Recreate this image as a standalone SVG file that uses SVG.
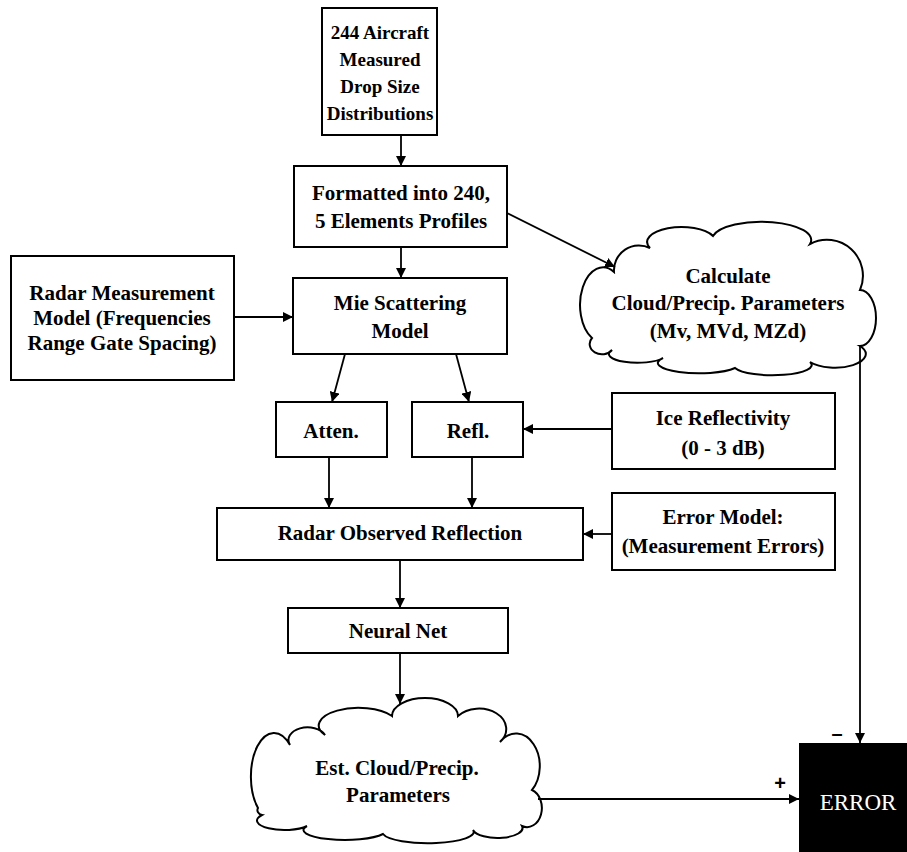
<svg xmlns="http://www.w3.org/2000/svg" width="907" height="852" viewBox="0 0 907 852">
<defs>
<marker id="ah" markerWidth="10" markerHeight="10" refX="10" refY="5" orient="auto" markerUnits="userSpaceOnUse">
<path d="M0,0 L10,5 L0,10 Z" fill="#000"/>
</marker>
<style>
.box{fill:#fff;stroke:#000;stroke-width:2}
.cloud{fill:#fff;stroke:#000;stroke-width:2}
.t{font-family:"Liberation Serif",serif;font-weight:bold;font-size:21px;text-anchor:middle;fill:#000}
.s{font-size:19px}
.c line{stroke:#000;stroke-width:1.8;marker-end:url(#ah)}
.sign{font-family:"Liberation Sans",sans-serif;font-weight:bold;font-size:20px;text-anchor:middle;fill:#000}
</style>
</defs>
<rect width="907" height="852" fill="#fff"/>
<g id="n1"><rect class="box" x="322" y="8" width="115" height="127"/>
<text class="t s" x="380" y="39">244 Aircraft</text><text class="t s" x="380" y="66">Measured</text><text class="t s" x="380" y="93">Drop Size</text><text class="t s" x="380" y="120">Distributions</text></g>
<g id="n2"><rect class="box" x="294" y="166" width="213" height="81"/>
<text class="t" x="401" y="200">Formatted into 240,</text><text class="t" x="401" y="228">5 Elements Profiles</text></g>
<g id="n3"><rect class="box" x="293" y="278" width="214" height="76"/>
<text class="t" x="400" y="310">Mie Scattering</text><text class="t" x="400" y="338">Model</text></g>
<g id="n4"><rect class="box" x="11" y="256" width="223" height="124"/>
<text class="t" x="122" y="300">Radar Measurement</text><text class="t" x="122" y="325">Model (Frequencies</text><text class="t" x="122" y="350">Range Gate Spacing)</text></g>
<g id="n5"><path class="cloud" d="M592,338 A22,36 0 0 1 614,272 A25,25 0 0 1 650,248 A32,14 0 0 1 713,236 A49,18 0 0 1 810,244 A36,36 0 0 1 860,290 A16,28 0 0 1 860,346 A27,12 0 0 1 810,362 A38,10 0 0 1 735,368 A36,9 0 0 1 663,358 A26,8 0 0 1 612,350 A12,10 0 0 1 592,338 Z"/>
<text class="t" x="728" y="283">Calculate</text><text class="t" x="728" y="310">Cloud/Precip. Parameters</text><text class="t" x="728" y="338">(Mv, MVd, MZd)</text></g>
<g id="n6"><rect class="box" x="276" y="402" width="111" height="55"/>
<text class="t" x="331" y="438">Atten.</text></g>
<g id="n7"><rect class="box" x="412" y="402" width="111" height="55"/>
<text class="t" x="468" y="438">Refl.</text></g>
<g id="n8"><rect class="box" x="612" y="393" width="223" height="76"/>
<text class="t" x="723" y="425">Ice Reflectivity</text><text class="t" x="723" y="455">(0 - 3 dB)</text></g>
<g id="n9"><rect class="box" x="217" y="508" width="366" height="52"/>
<text class="t" x="400" y="540">Radar Observed Reflection</text></g>
<g id="n10"><rect class="box" x="612" y="493" width="223" height="77"/>
<text class="t" x="723" y="524">Error Model:</text><text class="t" x="723" y="553">(Measurement Errors)</text></g>
<g id="n11"><rect class="box" x="288" y="608" width="220" height="45"/>
<text class="t" x="398" y="638">Neural Net</text></g>
<g id="n12"><path class="cloud" d="M258,808 A18,34 0 0 1 290,745 A18,12 0 0 1 325,735 A36,16 0 0 1 392,716 A33,18 0 0 1 458,716 A24,18 0 0 1 500,742 A22,30 0 0 1 532,790 A14,18 0 0 1 522,826 A25,10 0 0 1 473,830 A45,11 0 0 1 383,834 A38,9 0 0 1 307,826 A23,8 0 0 1 262,815 A6,5 0 0 1 258,808 Z"/>
<text class="t" x="397" y="775">Est. Cloud/Precip.</text><text class="t" x="398" y="802">Parameters</text></g>
<g id="n13"><rect x="799" y="743" width="108" height="109" fill="#000"/>
<text x="858" y="810" font-family="Liberation Serif, serif" font-size="23" text-anchor="middle" fill="#fff">ERROR</text></g>
<g class="c" id="connectors">
<line x1="401" y1="135" x2="401" y2="166"/>
<line x1="401" y1="247" x2="401" y2="278"/>
<line x1="507" y1="213" x2="615" y2="267"/>
<line x1="234" y1="317" x2="293" y2="317"/>
<line x1="345" y1="354" x2="332" y2="402"/>
<line x1="456" y1="354" x2="469" y2="402"/>
<line x1="612" y1="429" x2="523" y2="429"/>
<line x1="329" y1="457" x2="329" y2="508"/>
<line x1="472" y1="457" x2="472" y2="508"/>
<line x1="612" y1="534" x2="583" y2="534"/>
<line x1="400" y1="560" x2="400" y2="608"/>
<line x1="400" y1="653" x2="400" y2="704"/>
<line x1="860" y1="346" x2="860" y2="743"/>
<line x1="538" y1="799" x2="799" y2="799"/>
</g>
<text class="sign" x="837" y="740">–</text>
<text class="sign" x="780" y="790">+</text>
</svg>
